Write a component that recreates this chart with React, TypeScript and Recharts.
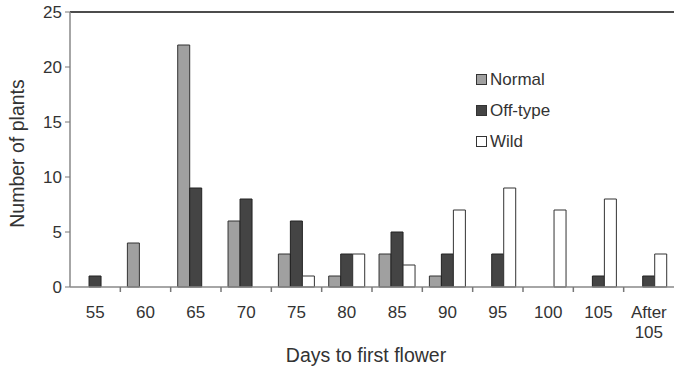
import React from 'react'
import { BarChart, Bar, XAxis, YAxis, ReferenceLine, Label } from 'recharts'

const days = ['55', '60', '65', '70', '75', '80', '85', '90', '95', '100', '105', 'After 105']
const normal = [0, 4, 22, 6, 3, 1, 3, 1, 0, 0, 0, 0]
const offType = [1, 0, 9, 8, 6, 3, 5, 3, 3, 0, 1, 1]
const wild = [0, 0, 0, 0, 1, 3, 2, 7, 9, 7, 8, 3]
const yTicks = [0, 5, 10, 15, 20, 25]

const data = days.map((d, i) => ({ day: d, Normal: normal[i], 'Off-type': offType[i], Wild: wild[i] }))

const FONT = '"Liberation Sans", Arial, sans-serif'
const TEXT = '#333'
const BAND = 604 / days.length

const DayTick = (props: any) => {
  const { x, y, payload, index } = props
  const words = String(payload.value).split(' ')
  return (
    <g>
      {index > 0 && <line x1={x - BAND / 2} x2={x - BAND / 2} y1={y - 8} y2={y - 3} stroke="#777" strokeWidth={1.5} />}
      <text x={x} y={y + 23} textAnchor="middle" fontSize={17} fill={TEXT} fontFamily={FONT}>
        {words.map((w, i) => (
          <tspan key={i} x={x} dy={i === 0 ? 0 : 20}>{w}</tspan>
        ))}
      </text>
    </g>
  )
}

const legendItems = [
  { name: 'Normal', color: '#a0a0a0' },
  { name: 'Off-type', color: '#444444' },
  { name: 'Wild', color: '#ffffff' },
]

// legend drawn as a plain overlay so it takes no space from the plot
const LegendBox = () => (
  <div style={{ position: 'absolute', left: 476, top: 64, fontFamily: FONT, fontSize: 17, color: TEXT }}>
    {legendItems.map((it) => (
      <div key={it.name} style={{ display: 'flex', alignItems: 'center', height: 31 }}>
        <span style={{ width: 9, height: 9, background: it.color, border: '1px solid #333', marginRight: 3 }} />
        {it.name}
      </div>
    ))}
  </div>
)

export default function App() {
  return (
    <div style={{ position: 'absolute', left: 0, top: 0, width: 674, height: 367 }}>
      <BarChart
        width={674}
        height={367}
        data={data}
        margin={{ top: 12, right: 0, left: 0, bottom: 0 }}
        barCategoryGap="14%"
        barGap={0}
      >
        <XAxis
          dataKey="day"
          height={80}
          interval={0}
          tickLine={false}
          axisLine={{ stroke: '#888', strokeWidth: 1.5 }}
          tick={<DayTick />}
        >
          <Label value="Days to first flower" position="insideBottom" offset={5} dx={-6} fontSize={19.5} fill={TEXT} fontFamily={FONT} />
        </XAxis>
        <YAxis
          width={70}
          domain={[0, 25]}
          ticks={yTicks}
          interval={0}
          tick={{ fontSize: 17, fill: TEXT, fontFamily: FONT }}
          tickSize={5}
          tickMargin={3}
          tickLine={{ stroke: '#777' }}
          axisLine={{ stroke: '#888', strokeWidth: 1.5 }}
        >
          <Label value="Number of plants" angle={-90} position="insideLeft" offset={17} dy={4} style={{ textAnchor: 'middle' }} fontSize={19.5} fill={TEXT} fontFamily={FONT} />
        </YAxis>
        <ReferenceLine y={25} stroke="#111" strokeWidth={1.5} />
        <Bar dataKey="Normal" fill="#a0a0a0" stroke="#333" strokeWidth={1} isAnimationActive={false} />
        <Bar dataKey="Off-type" fill="#444444" stroke="#222" strokeWidth={1} isAnimationActive={false} />
        <Bar dataKey="Wild" fill="#ffffff" stroke="#333" strokeWidth={1} isAnimationActive={false} />
      </BarChart>
      <LegendBox />
    </div>
  )
}
